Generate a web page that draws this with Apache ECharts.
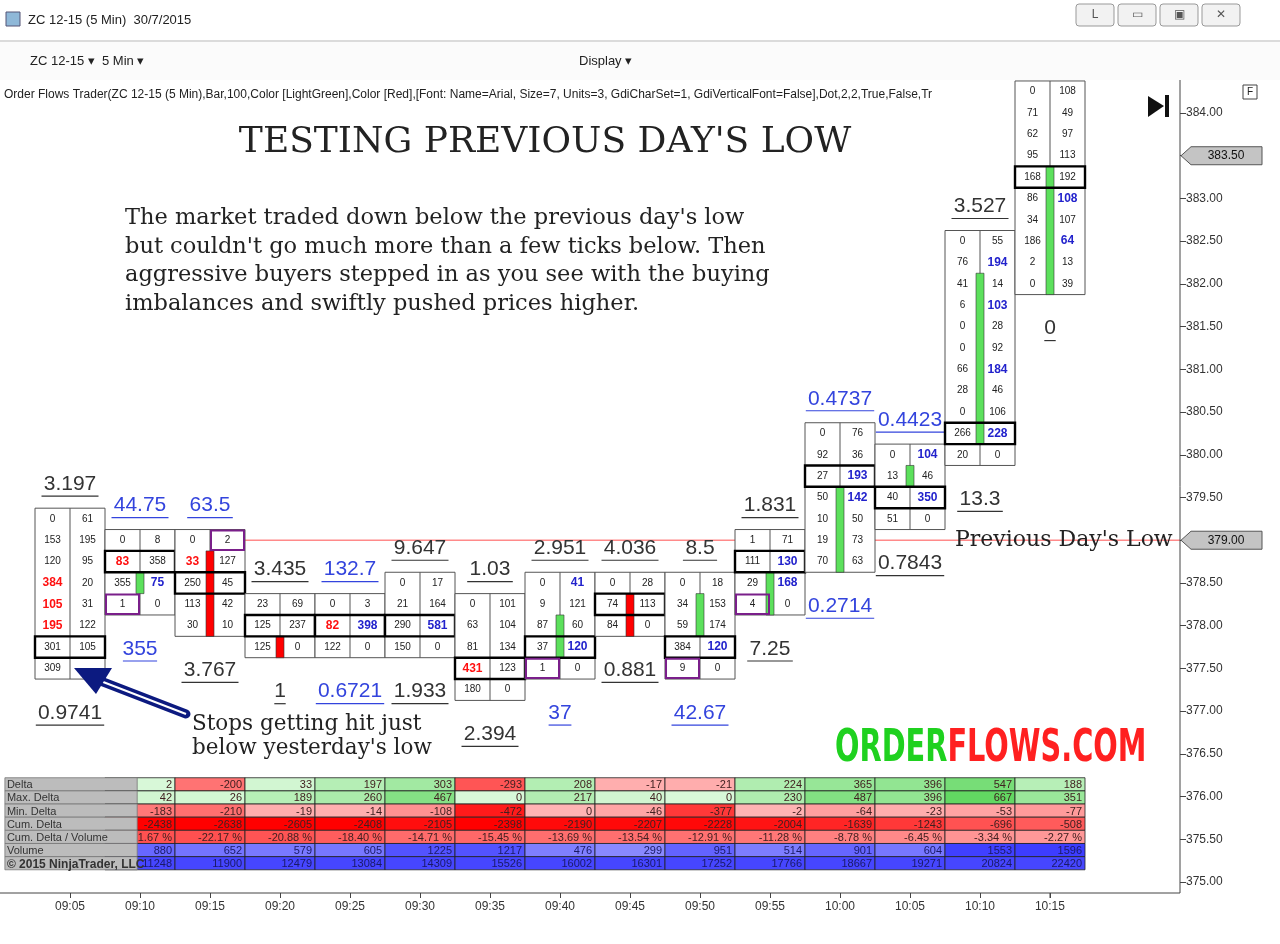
<!DOCTYPE html>
<html><head><meta charset="utf-8">
<script src="https://cdn.jsdelivr.net/npm/echarts@6/dist/echarts.min.js"></script>
<style>html,body{margin:0;padding:0;background:#fff}#c{width:1280px;height:944px}</style>
</head><body><div id="c"></div>
<script>
// ---------- data ----------
const times = ['09:05','09:10','09:15','09:20','09:25','09:30','09:35','09:40','09:45','09:50','09:55','10:00','10:05','10:10','10:15'];
const barTop = [379.25,379.0,379.0,378.25,378.25,378.5,378.25,378.5,378.5,378.5,379.0,380.25,380.0,382.5,384.25];
// '!' = red imbalance, '^' = blue imbalance
const bids = [
 ['0','153','120','!384','!105','!195','301','309'],
 ['0','!83','355','1'],
 ['0','!33','250','113','30'],
 ['23','125','125'],
 ['0','!82','122'],
 ['0','21','290','150'],
 ['0','63','81','!431','180'],
 ['0','9','87','37','1'],
 ['0','74','84'],
 ['0','34','59','384','9'],
 ['1','111','29','4'],
 ['0','92','27','50','10','19','70'],
 ['0','13','40','51'],
 ['0','76','41','6','0','0','66','28','0','266','20'],
 ['0','71','62','95','168','86','34','186','2','0']
];
const asks = [
 ['61','195','95','20','31','122','105',''],
 ['8','358','^75','0'],
 ['2','127','45','42','10'],
 ['69','237','0'],
 ['3','^398','0'],
 ['17','164','^581','0'],
 ['101','104','134','123','0'],
 ['^41','121','60','^120','0'],
 ['28','113','0'],
 ['18','153','174','^120','0'],
 ['71','^130','^168','0'],
 ['76','36','^193','^142','50','73','63'],
 ['^104','46','^350','0'],
 ['55','^194','14','^103','28','92','^184','46','106','^228','0'],
 ['108','49','97','113','192','^108','107','^64','13','39']
];
const bodyHi = [null,378.5,378.75,377.75,null,null,null,378.0,378.25,378.25,378.5,379.5,379.75,382.0,383.25];
const bodyLo = [null,378.5,378.0,377.75,null,null,null,377.75,378.0,378.0,378.25,378.75,379.75,380.25,382.0];
const bodyUp = [true,true,false,false,true,true,true,true,false,true,true,true,true,true,true];
const poc = [377.75,378.75,378.5,378.0,378.0,378.0,377.5,377.75,378.25,377.75,378.75,379.75,379.5,380.25,383.25];
const purple = [[1,378.25,0],[2,379.0,1],[7,377.5,0],[9,377.5,0],[10,378.25,0]];
const topLbl = ['3.197','44.75','63.5','3.435','132.7','9.647','1.03','2.951','4.036','8.5','1.831','0.4737','0.4423','3.527',''];
const topBlue = [0,1,1,0,1,0,0,0,0,0,0,1,1,0,0];
const botLbl = ['0.9741','355','3.767','1','0.6721','1.933','2.394','37','0.881','42.67','7.25','0.2714','0.7843','13.3','0'];
const botBlue = [0,1,0,0,1,0,0,1,0,1,0,1,0,0,0];
const yTicks = [375,375.5,376,376.5,377,377.5,378,378.5,379,379.5,380,380.5,381,381.5,382,382.5,383,383.5,384];
const rowNames = ['Delta','Max. Delta','Min. Delta','Cum. Delta','Cum. Delta / Volume','Volume','© 2015 NinjaTrader, LLC'];
const delta    = [2,-200,33,197,303,-293,208,-17,-21,224,365,396,547,188];
const maxDelta = [42,26,189,260,467,0,217,40,0,230,487,396,667,351];
const minDelta = [-183,-210,-19,-14,-108,-472,0,-46,-377,-2,-64,-23,-53,-77];
const cumDelta = [-2438,-2638,-2605,-2408,-2105,-2398,-2190,-2207,-2228,-2004,-1639,-1243,-696,-508];
const cumDVol  = ['1.67 %','-22.17 %','-20.88 %','-18.40 %','-14.71 %','-15.45 %','-13.69 %','-13.54 %','-12.91 %','-11.28 %','-8.78 %','-6.45 %','-3.34 %','-2.27 %'];
const cumDVolV = [-21.67,-22.17,-20.88,-18.40,-14.71,-15.45,-13.69,-13.54,-12.91,-11.28,-8.78,-6.45,-3.34,-2.27];
const volume   = [880,652,579,605,1225,1217,476,299,951,514,901,604,1553,1596];
const cumVol   = [11248,11900,12479,13084,14309,15526,16002,16301,17252,17766,18667,19271,20824,22420];
const prevLow = 379.0, lastPrice = 383.5;

// ---------- helpers ----------
function mix(a,b,t){t=Math.max(0,Math.min(1,t));const pa=a.match(/\w\w/g).map(h=>parseInt(h,16)),pb=b.match(/\w\w/g).map(h=>parseInt(h,16));
 return 'rgb('+pa.map((v,k)=>Math.round(v+(pb[k]-v)*t)).join(',')+')';}
function gr(v,m){return mix('d8f8d8','5cd65c',v/m);} function rd(v,m){return mix('ffb4b4','ff1818',v/m);}
const SANS='"Liberation Sans", Arial, sans-serif', SERIF='"DejaVu Serif", serif';

function renderBar(params, api){
 const i=api.value(0), b=bids[i], a=asks[i], n=b.length, top=barTop[i];
 const xL=api.coord([i-0.5,top])[0], xR=api.coord([i+0.5,top])[0], xM=(xL+xR)/2;
 const yT=api.coord([0,top+0.125])[1], yB=api.coord([0,top-0.25*(n-1)-0.125])[1];
 const rh=(yB-yT)/n; const ch=[];
 ch.push({type:'rect',shape:{x:xL,y:yT,width:xR-xL,height:yB-yT},style:{fill:'#fff',stroke:'#555',lineWidth:1}});
 ch.push({type:'line',shape:{x1:xM,y1:yT,x2:xM,y2:yB},style:{stroke:'#555',lineWidth:1}});
 if(bodyHi[i]!==null){
  const y1=api.coord([0,bodyHi[i]+0.125])[1], y2=api.coord([0,bodyLo[i]-0.125])[1];
  ch.push({type:'rect',shape:{x:xM-4,y:y1,width:8,height:y2-y1},style:{fill:bodyUp[i]?'#5ce05c':'#ff0000',stroke:'#333',lineWidth:0.6}});
 }
 const cell=(s,x,y)=>{let col='#222',fs=10,fw='normal';
  if(s[0]==='!'){col='#ff1010';fs=12;fw='bold';s=s.slice(1);} else if(s[0]==='^'){col='#2222cc';fs=12;fw='bold';s=s.slice(1);}
  ch.push({type:'text',style:{text:s,x:x,y:y,fill:col,font:fw+' '+fs+'px '+SANS,textAlign:'center',textVerticalAlign:'middle'}});};
 for(let r=0;r<n;r++){const p=top-0.25*r, y=api.coord([0,p])[1];
  cell(b[r],(xL+xM)/2,y); cell(a[r],(xM+xR)/2,y);
  if(Math.abs(p-poc[i])<1e-6){ch.push({type:'rect',shape:{x:xL,y:y-rh/2,width:xR-xL,height:rh},style:{fill:null,stroke:'#000',lineWidth:2.4}});}
 }
 purple.forEach(q=>{if(q[0]===i){const y=api.coord([0,q[1]])[1];const x0=q[2]?xM:xL;
  ch.push({type:'rect',shape:{x:x0+1,y:y-rh/2+1,width:(xR-xL)/2-2,height:rh-2},style:{fill:null,stroke:'#7a1f8a',lineWidth:2}});}});
 const lbl=(t,blue,y)=>{if(!t)return;const c=blue?'#3344dd':'#333';
  ch.push({type:'text',style:{text:t,x:xM,y:y,fill:c,font:'21px '+SANS,textAlign:'center',textVerticalAlign:'middle'}});
  const w=t.length*11.4;ch.push({type:'line',shape:{x1:xM-w/2,y1:y+12,x2:xM+w/2,y2:y+12},style:{stroke:c,lineWidth:1.2}});};
 lbl(topLbl[i],topBlue[i],yT-24); lbl(botLbl[i],botBlue[i],yB+34);
 return {type:'group',children:ch};
}

function renderTable(params, api){
 const ch=[]; const yT=api.coord([0,376.22])[1]; const rh=13.15;
 const x0=api.coord([-0.93,0])[0], xl=api.coord([0.96,0])[0];
 const rows=[
  delta.map(v=>[v,v>=0?gr(v,700):rd(-v,480)]),
  maxDelta.map(v=>[v,gr(v,700)]),
  minDelta.map(v=>[v,rd(-v,480)]),
  cumDelta.map(v=>[v,mix('ff6060','ff0000',(-v-400)/2000)]),
  cumDVol.map((s,k)=>[s,mix('ffa0a0','ff5050',-cumDVolV[k]/22)]),
  volume.map(v=>[v,mix('8c8cff','3a3aff',(v-250)/1400)]),
  cumVol.map(v=>[v,'#4646ff'])];
 rows.forEach((row,r)=>{const y=yT+r*rh;
  row.forEach((c,k)=>{const xa=api.coord([k+0.5,0])[0], xb=api.coord([k+1.5,0])[0];
   ch.push({type:'rect',shape:{x:xa,y:y,width:xb-xa,height:rh},style:{fill:c[1],stroke:'#222',lineWidth:0.8}});
   ch.push({type:'text',style:{text:String(c[0]),x:xb-3,y:y+rh/2+1,fill:r>=5?'#1a1a66':'#402020',font:'11px '+SANS,textAlign:'right',textVerticalAlign:'middle'}});
  });
  ch.push({type:'rect',shape:{x:x0,y:y,width:xl-x0,height:rh},style:{fill:'#bcbcbc',stroke:'#777',lineWidth:0.8}});
  ch.push({type:'text',style:{text:rowNames[r],x:x0+2,y:y+rh/2+1,fill:'#333',font:(r===6?'bold 12px ':'11px ')+SANS,textVerticalAlign:'middle'}});
 });
 return {type:'group',children:ch};
}

const chart=echarts.init(document.getElementById('c'));
const XMAX=15.857;
chart.setOption({
 animation:false,
 grid:[{left:0,width:1180,top:70.3,bottom:19.3},{left:70,width:979.93,top:70,bottom:51}],
 xAxis:[{gridIndex:0,type:'value',min:-1,max:XMAX,show:false},
  {gridIndex:1,type:'value',min:0,max:13.999,interval:1,axisLine:{show:false},axisTick:{length:5,lineStyle:{color:'#444'}},splitLine:{show:false},
   axisLabel:{color:'#333',fontFamily:SANS,fontSize:12,margin:8,showMaxLabel:true,formatter:v=>times[Math.round(v)]||''}}],
 yAxis:[{gridIndex:0,type:'value',min:374.5,max:384.5,interval:0.5,position:'right',axisLine:{show:false,onZero:false},splitLine:{show:false},
   axisTick:{show:true,length:6,lineStyle:{color:'#444'}},
   axisLabel:{color:'#333',fontFamily:SANS,fontSize:12,margin:6,formatter:v=>yTicks.indexOf(v)>=0?v.toFixed(2):''}},
  {gridIndex:1,type:'value',min:0,max:1,show:false}],
 series:[
  {type:'line',xAxisIndex:0,yAxisIndex:0,data:[[0.05,prevLow],[XMAX,prevLow]],symbol:'none',lineStyle:{color:'#ff8a8a',width:1.5},z:1},
  {type:'custom',xAxisIndex:0,yAxisIndex:0,data:times.map((t,i)=>[i]),renderItem:renderBar,clip:false,z:3},
  {type:'custom',xAxisIndex:0,yAxisIndex:0,data:[[0]],renderItem:renderTable,clip:false,z:4}
 ]
});

// overlay graphics
const g=[];
g.push({type:'rect',shape:{x:1175,y:915,width:20,height:20},style:{fill:'#fff'},z:8});
g.push({type:'line',shape:{x1:0,y1:893,x2:1180,y2:893},style:{stroke:'#444',lineWidth:1},z:9});
g.push({type:'line',shape:{x1:1180,y1:80,x2:1180,y2:893},style:{stroke:'#444',lineWidth:1},z:9});
g.push({type:'line',shape:{x1:1050,y1:893,x2:1050,y2:898},style:{stroke:'#444',lineWidth:1},z:9});
function tag(price){const y=chart.convertToPixel({yAxisIndex:0},price);
 g.push({type:'polygon',shape:{points:[[1181,y],[1191,y-9],[1262,y-9],[1262,y+9],[1191,y+9]]},style:{fill:'#c4c4c4',stroke:'#555'},z:20});
 g.push({type:'text',style:{text:price.toFixed(2),x:1226,y:y,fill:'#111',font:'12px '+SANS,textAlign:'center',textVerticalAlign:'middle'},z:21});}
tag(lastPrice); tag(prevLow);
const T=(t,x,y,font,fill,align)=>g.push({type:'text',style:{text:t,x:x,y:y,font:font,fill:fill||'#222',textAlign:align||'left',textVerticalAlign:'middle'},z:30});
// window chrome
g.push({type:'rect',shape:{x:0,y:40,width:1280,height:40},style:{fill:'#fbfbfb'},z:10});
g.push({type:'line',shape:{x1:0,y1:41,x2:1280,y2:41},style:{stroke:'#bbb'},z:10});
g.push({type:'rect',shape:{x:6,y:12,width:14,height:14},style:{fill:'#8fb8d8',stroke:'#557'},z:10});
T('ZC 12-15 (5 Min)  30/7/2015',28,20,'13px '+SANS,'#222');
T('ZC 12-15 ▾  5 Min ▾',30,61,'13px '+SANS,'#222');
T('Display ▾',579,61,'13px '+SANS,'#222');
[[1076,'L'],[1118,'▭'],[1160,'▣'],[1202,'✕']].forEach(b=>{g.push({type:'rect',shape:{x:b[0],y:4,width:38,height:22,r:3},style:{fill:'#f2f2f2',stroke:'#999'},z:10});T(b[1],b[0]+19,15,'12px '+SANS,'#555','center');});
T('Order Flows Trader(ZC 12-15 (5 Min),Bar,100,Color [LightGreen],Color [Red],[Font: Name=Arial, Size=7, Units=3, GdiCharSet=1, GdiVerticalFont=False],Dot,2,2,True,False,Tr',4,95,'12px '+SANS,'#222');
g.push({type:'rect',shape:{x:1243,y:85,width:14,height:14},style:{fill:'#fff',stroke:'#444'},z:30});T('F',1250,92,'10px '+SANS,'#222','center');
g.push({type:'polygon',shape:{points:[[1148,96],[1164,106],[1148,117]]},style:{fill:'#111'},z:30});
g.push({type:'rect',shape:{x:1165,y:95,width:4,height:22},style:{fill:'#111'},z:30});
// annotations
T("TESTING PREVIOUS DAY'S LOW",545,143,'36px '+SERIF,'#222','center');
["The market traded down below the previous day's low","but couldn't go much more than a few ticks below. Then","aggressive buyers stepped in as you see with the buying","imbalances and swiftly pushed prices higher."].forEach((s,k)=>T(s,125,218+k*28.7,'22.5px '+SERIF,'#222'));
T("Previous Day's Low",955,540,'22px '+SERIF,'#222');
T("Stops getting hit just",192,724,'21.5px '+SERIF,'#222');
T("below yesterday's low",192,748,'21.5px '+SERIF,'#222');
g.push({type:'text',x:835,y:750,scaleX:0.8,scaleY:1.1,style:{rich:{a:{fill:'#1fd11f',font:'bold 40px "DejaVu Sans Condensed", sans-serif'},b:{fill:'#ff2020',font:'bold 40px "DejaVu Sans Condensed", sans-serif'}},text:'{a|ORDER}{b|FLOWS.COM}',x:0,y:0,textVerticalAlign:'middle'},z:30});
// arrow
g.push({type:'polyline',shape:{points:[[186,714],[98,680]]},style:{stroke:'#0c1a80',lineWidth:9,lineCap:'round'},z:30});
g.push({type:'polyline',shape:{points:[[186,714],[98,680]]},style:{stroke:'#fff',lineWidth:2},z:31});
g.push({type:'polygon',shape:{points:[[74,668],[112,668],[96,694]]},style:{fill:'#0c1a80'},z:31});
chart.setOption({graphic:g});
</script></body></html>
